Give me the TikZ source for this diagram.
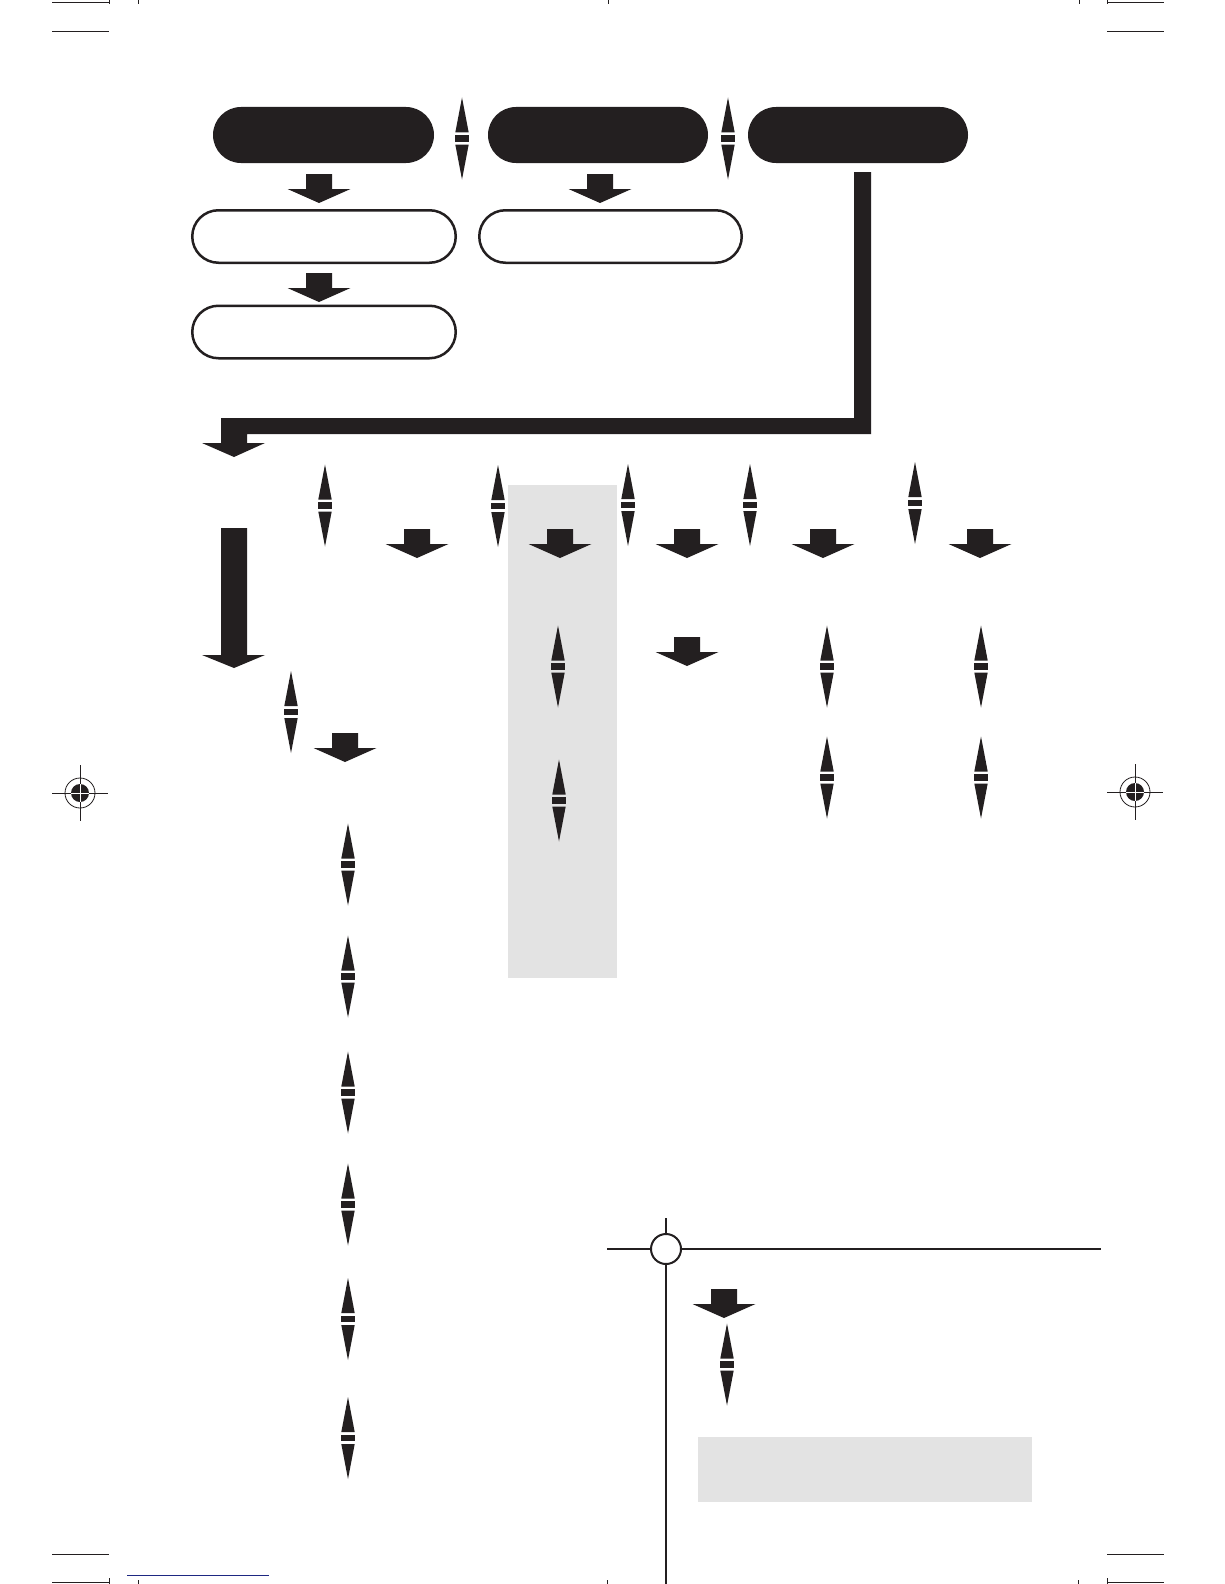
\documentclass[tikz,border=0pt]{standalone}
\usetikzlibrary{shapes.misc}
\definecolor{ink}{RGB}{35,31,32}
\definecolor{panelgray}{RGB}{227,227,227}
\definecolor{cropblue}{RGB}{30,40,130}
\tikzset{
  blackoval/.style={rounded rectangle, fill=ink, draw=none, inner sep=0pt, minimum height=56pt},
  whiteoval/.style={rounded rectangle, draw=ink, line width=2.5pt, fill=white, inner sep=0pt, minimum height=52.5pt},
  dblarrow/.pic={
    \fill[ink] (0,-41) -- (6.7,-6) -- (-6.7,-6) -- cycle;
    \fill[ink] (-6.7,-3.3) rectangle (6.7,3.3);
    \fill[ink] (0,41) -- (6.7,6) -- (-6.7,6) -- cycle;
  },
  blkarrow/.pic={
    \fill[ink] (-13,0) -- (13,0) -- (13,15) -- (31.5,15) -- (0,29) -- (-31.5,15) -- (-13,15) -- cycle;
  },
  regmark/.pic={
    \draw[ink, line width=0.8pt] (0,0) circle (15);
    \fill[ink] (0,0) circle (9);
    \draw[ink, line width=1pt] (-28,0) -- (-9,0) (9,0) -- (28,0) (0,-28) -- (0,-9) (0,9) -- (0,28);
    \draw[white, line width=1pt] (-9,0) -- (9,0) (0,-9) -- (0,9);
  },
  crop/.style={ink, line width=1pt}
}
\begin{document}
\begin{tikzpicture}[x=1pt,y=-1pt]
\useasboundingbox (0,0) rectangle (1224,1584);
\fill[white] (0,0) rectangle (1224,1584);

% gray column
\fill[panelgray] (508,485) rectangle (617,978);

% top ovals
\node[blackoval, minimum width=221pt] (o1) at (323.5,135) {};
\node[blackoval, minimum width=220pt] (o2) at (598,135) {};
\node[blackoval, minimum width=220pt] (o3) at (858,135) {};
\node[whiteoval, minimum width=263.5pt] (w1) at (324,236.5) {};
\node[whiteoval, minimum width=262.5pt] (w2) at (610.5,236.5) {};
\node[whiteoval, minimum width=263.5pt] (w3) at (324,332) {};

% double arrows between top ovals
\pic at (462,138.5) {dblarrow};
\pic at (728,138.5) {dblarrow};

% block arrows under ovals
\pic at (319,174) {blkarrow};
\pic at (319,273) {blkarrow};
\pic at (600,174) {blkarrow};

% L-shaped connector from o3
\coordinate (lstart) at (862.5,172);
\fill[ink] (854,172) -- (871,172) -- (871,434) -- (247,434) -- (247,443) -- (265,443)
  -- (234,457) -- (202,443) -- (221,443) -- (221,418) -- (854,418) -- cycle;

% big long arrow
\fill[ink] (221,528) -- (247,528) -- (247,655) -- (265,655) -- (234,668) -- (202,655) -- (221,655) -- cycle;

% row of double arrows
\pic at (325,505.5) {dblarrow};
\pic at (498,506) {dblarrow};
\pic at (628,505) {dblarrow};
\pic at (750,505) {dblarrow};
\pic at (915,503) {dblarrow};

% row of block arrows
\pic at (417,529) {blkarrow};
\pic at (560,529) {blkarrow};
\pic at (687,529) {blkarrow};
\pic at (823,529) {blkarrow};
\pic at (980,529) {blkarrow};
\pic at (687,637) {blkarrow};

% further double arrows
\pic at (558,666.5) {dblarrow};
\pic at (827,666.5) {dblarrow};
\pic at (981,666.5) {dblarrow};
\pic at (559,800.5) {dblarrow};
\pic at (827,777.5) {dblarrow};
\pic at (981,777.5) {dblarrow};

% left column
\pic at (291,712) {dblarrow};
\pic at (345,733) {blkarrow};
\pic at (348,864.5) {dblarrow};
\pic at (348,976.5) {dblarrow};
\pic at (348,1092.5) {dblarrow};
\pic at (348,1204.5) {dblarrow};
\pic at (348,1319) {dblarrow};
\pic at (348,1438) {dblarrow};

% registration marks
\pic at (80,793) {regmark};
\pic at (1135,792) {regmark};

% bottom-right panel
\draw[ink, line width=2pt] (607,1249) -- (1101,1249);
\draw[ink, line width=2pt] (666,1218) -- (666,1584);
\node[circle, draw=ink, line width=2pt, fill=white, minimum size=30pt, inner sep=0pt] (pc) at (666,1249) {};
\pic at (724,1289) {blkarrow};
\pic at (727,1364.5) {dblarrow};
\fill[panelgray] (698,1437) rectangle (1032,1502);

% crop marks top
\draw[crop] (52,3) -- (109,3) (52,32) -- (109,32);
\draw[crop] (109,0) -- (109,4) (138,0) -- (138,4);
\draw[crop] (608,0) -- (608,4);
\draw[crop] (1107,3) -- (1164,3) (1107,32) -- (1164,32);
\draw[crop] (1107,0) -- (1107,4) (1079,0) -- (1079,4);
% crop marks bottom
\draw[crop] (52,1554) -- (109,1554) (52,1582) -- (109,1582);
\draw[crop] (109,1578) -- (109,1584) (138,1580) -- (138,1584);
\draw[cropblue, line width=1pt] (127,1575) -- (269,1575);
\draw[crop] (607,1580) -- (607,1584) (1078,1580) -- (1078,1584);
\draw[crop] (1107,1554) -- (1164,1554) (1107,1582) -- (1164,1582);
\draw[crop] (1107,1578) -- (1107,1584);
\end{tikzpicture}
\end{document}
